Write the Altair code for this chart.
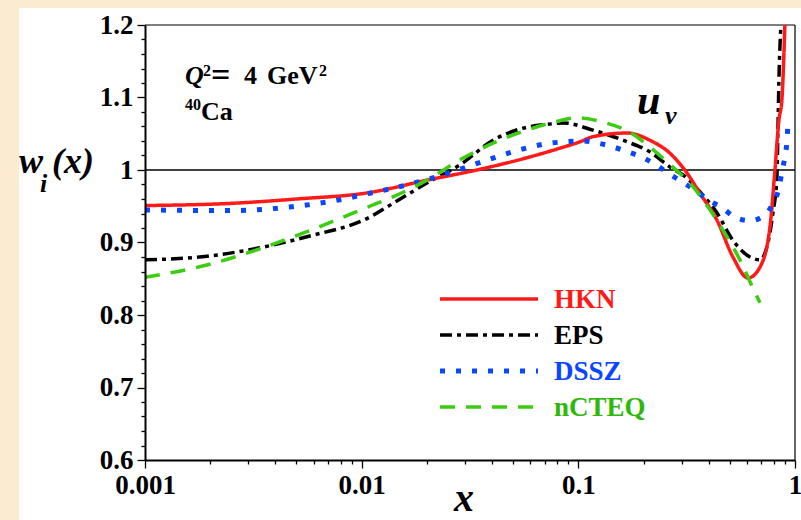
import altair as alt
import pandas as pd

# ---- data: nuclear modification w_i(x) of the u_v distribution, 40Ca, Q^2 = 4 GeV^2 ----
hkn_x = [0.001, 0.0025, 0.005, 0.0109, 0.020, 0.034, 0.058, 0.082, 0.102, 0.117,
         0.168, 0.214, 0.265, 0.310, 0.364, 0.436, 0.517, 0.607, 0.689, 0.766,
         0.808, 0.843, 0.870, 0.898]
hkn_y = [0.951, 0.954, 0.960, 0.969, 0.986, 1.000, 1.017, 1.030, 1.039, 1.046,
         1.051, 1.041, 1.023, 1.000, 0.968, 0.931, 0.880, 0.851, 0.866, 0.921,
         1.000, 1.069, 1.097, 1.200]

eps_x = [0.001, 0.00193, 0.00329, 0.00559, 0.0109, 0.01395, 0.020, 0.0284, 0.0404,
         0.0579, 0.072, 0.085, 0.1168, 0.1676, 0.214, 0.265, 0.317, 0.364, 0.436,
         0.517, 0.620, 0.689, 0.742, 0.790, 0.825, 0.834, 0.843, 0.861]
eps_y = [0.876, 0.881, 0.892, 0.908, 0.935, 0.954, 0.982, 1.007, 1.041,
         1.059, 1.063, 1.065, 1.055, 1.039, 1.025, 1.004, 0.989, 0.970, 0.941,
         0.903, 0.880, 0.876, 0.894, 0.940, 0.990, 1.055, 1.124, 1.200]

dssz_x = [0.001, 0.00247, 0.00467, 0.00794, 0.0109, 0.015, 0.0207, 0.0284, 0.0391,
          0.0538, 0.074, 0.0886, 0.104, 0.123, 0.144, 0.169, 0.199, 0.231, 0.265,
          0.304, 0.353, 0.396, 0.460, 0.528, 0.620, 0.726, 0.791, 0.843, 0.870,
          0.898, 0.918, 0.927]
dssz_y = [0.945, 0.944, 0.949, 0.959, 0.968, 0.977, 0.988, 1.001, 1.015,
          1.028, 1.037, 1.039, 1.040, 1.037, 1.032, 1.025, 1.017, 1.006, 0.994,
          0.983, 0.970, 0.959, 0.948, 0.935, 0.930, 0.938, 0.954, 0.975, 0.997,
          1.018, 1.040, 1.062]

ncteq_x = [0.001, 0.00193, 0.00329, 0.00559, 0.0109, 0.01395, 0.020, 0.0284, 0.0404,
           0.0579, 0.0822, 0.0985, 0.130, 0.173, 0.221, 0.273, 0.338, 0.405, 0.485,
           0.557, 0.620, 0.689]
ncteq_y = [0.852, 0.869, 0.890, 0.915, 0.950, 0.963, 0.986, 1.014, 1.037,
           1.055, 1.068, 1.072, 1.066, 1.052, 1.028, 1.004, 0.977, 0.945, 0.908,
           0.876, 0.846, 0.817]

names = ["HKN", "EPS", "DSSZ", "nCTEQ"]
series = {"HKN": (hkn_x, hkn_y), "EPS": (eps_x, eps_y),
          "DSSZ": (dssz_x, dssz_y), "nCTEQ": (ncteq_x, ncteq_y)}

unity = [1.0]  # reference level w = 1

x_ticks = [round(m * 10 ** e, 6) for e in (-3, -2, -1) for m in range(1, 10)] + [1]
y_ticks = [round(0.6 + 0.02 * i, 2) for i in range(31)]

# ---- styles ----
colors = {"HKN": "#ff1a1a", "EPS": "#000000", "DSSZ": "#0a45ff", "nCTEQ": "#3ccc10"}
text_colors = {"HKN": "#ff1a1a", "EPS": "#000000", "DSSZ": "#0a45ff", "nCTEQ": "#2fb80a"}
dashes = {"HKN": [1, 0], "EPS": [12, 5, 4, 5], "DSSZ": [5, 11], "nCTEQ": [15, 11]}
widths = {"HKN": 3.5, "EPS": 3.5, "DSSZ": 5, "nCTEQ": 3.5}
draw_order = ["EPS", "HKN", "DSSZ", "nCTEQ"]

SERIF = "Liberation Serif"
W, H = 650, 435

rows = []
for n in names:
    xs, ys = series[n]
    rows += [{"model": n, "x": a, "w": b} for a, b in zip(xs, ys)]
df = pd.DataFrame(rows)
unity_df = pd.DataFrame({"w": unity})
legend_df = pd.DataFrame({"model": names})
one = alt.Data(values=[{}])

x_major = "abs(log(datum.value)/LN10 - round(log(datum.value)/LN10)) < 0.001"
y_major = "abs(datum.value*10 - round(datum.value*10)) < 0.001"

common_axis = dict(
    labelFont=SERIF, labelFontSize=27, labelFontWeight="bold", labelColor="#000",
    tickColor="#000", tickWidth=1.3, domainColor="#000", domainWidth=2,
    grid=False, labelOverlap=False, labelFlush=False, title=None, zindex=1,
)

x_enc = alt.X("x:Q", scale=alt.Scale(type="log", domain=[0.001, 1], nice=False),
              axis=alt.Axis(values=x_ticks,
                            labelExpr=f"{x_major} ? toString(datum.value) : ''",
                            tickSize={"condition": {"test": x_major, "value": 8}, "value": 4},
                            labelPadding=4, **common_axis))
y_enc = alt.Y("w:Q", scale=alt.Scale(domain=[0.6, 1.2], nice=False, zero=False),
              axis=alt.Axis(values=y_ticks,
                            labelExpr=f"{y_major} ? toString(round(datum.value*10)/10) : ''",
                            tickSize={"condition": {"test": y_major, "value": 8}, "value": 4},
                            labelPadding=4, **common_axis))

layers = []

# white panel behind the plot
layers.append(alt.Chart(one).mark_rect(color="white").encode(
    x=alt.value(-126), x2=alt.value(W + 6), y=alt.value(-17), y2=alt.value(H + 60)))

# frame (top and right)
layers.append(alt.Chart(one).mark_rule(color="#000", strokeWidth=1.2).encode(
    x=alt.value(0), x2=alt.value(W), y=alt.value(0)))
layers.append(alt.Chart(one).mark_rule(color="#000", strokeWidth=1.2).encode(
    x=alt.value(W), y=alt.value(0), y2=alt.value(H)))

# w = 1 reference line, on the same y scale and axis as the curves
layers.append(alt.Chart(unity_df).mark_rule(color="#000", strokeWidth=1.5).encode(
    y=y_enc, x=alt.value(0), x2=alt.value(W)))

# curves
for n in draw_order:
    layers.append(
        alt.Chart(df).transform_filter(alt.datum.model == n)
        .mark_line(color=colors[n], strokeDash=dashes[n], strokeWidth=widths[n],
                   interpolate="monotone", clip=True, strokeCap="butt")
        .encode(x=x_enc, y=y_enc, order="x:Q")
    )

base_layer = alt.layer(*layers)

# legend built from the model list on its own point scale
leg_y = alt.Y("model:N", scale=alt.Scale(type="point", domain=names, range=[274, 382],
                                         padding=0), axis=None)
leg_layers = []
for n in names:
    leg_layers.append(
        alt.Chart(legend_df).transform_filter(alt.datum.model == n)
        .mark_rule(color=colors[n], strokeDash=dashes[n], strokeWidth=widths[n],
                   strokeCap="butt")
        .encode(x=alt.value(295), x2=alt.value(393), y=leg_y)
    )
    leg_layers.append(
        alt.Chart(legend_df).transform_filter(alt.datum.model == n)
        .mark_text(align="left", baseline="middle", font=SERIF, fontSize=27,
                   fontWeight="bold", color=text_colors[n], dy=1)
        .encode(x=alt.value(409), y=leg_y, text="model:N")
    )
legend_layer = alt.layer(*leg_layers)


def label(txt, x, y, size, italic=False, align="left"):
    return alt.Chart(one).mark_text(
        text=txt, font=SERIF, fontSize=size, fontWeight="bold",
        fontStyle="italic" if italic else "normal", align=align,
        baseline="alphabetic", color="#000",
    ).encode(x=alt.value(x - 145), y=alt.value(y - 25))


notes = alt.layer(
    label("Q", 185, 84, 26, italic=True),
    label("2", 203, 76, 16),
    label("=", 211, 86, 34),
    label("4", 244, 84, 26),
    label("GeV", 267, 84, 26),
    label("2", 319, 76, 16),
    label("40", 185, 110, 16),
    label("Ca", 201, 120, 26),
    label("u", 637, 114, 42, italic=True),
    label("v", 665, 124, 26, italic=True),
    label("w", 19, 173, 36, italic=True),
    label("i", 40, 192, 26, italic=True),
    label("(x)", 52, 173, 36, italic=True),
    label("x", 454, 511, 40, italic=True),
)

chart = (
    alt.layer(base_layer, legend_layer, notes)
    .resolve_scale(y="independent")
    .properties(width=W, height=H, autosize=alt.AutoSizeParams(type="none"),
                padding={"left": 145, "top": 25, "right": 6, "bottom": 60},
                background="#fbebd0")
    .configure_view(stroke=None)
    .configure_axis(labelOverlap=False)
)

chart.save("out.html", embed_options={"renderer": "svg", "actions": False})
